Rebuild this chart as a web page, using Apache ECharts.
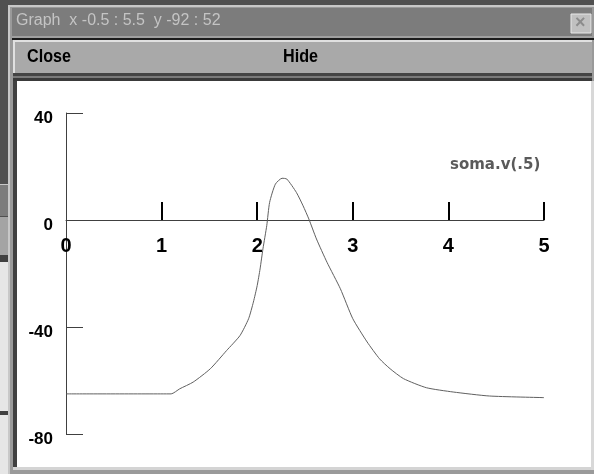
<!DOCTYPE html>
<html lang="en">
<head>
  <meta charset="UTF-8">
  <title>Graph</title>
  <script src="https://cdn.jsdelivr.net/npm/echarts@6/dist/echarts.min.js"></script>
</head>
<body style="margin:0;">
<div id="main" style="width: 594px;height:474px;"></div>
<script type="text/javascript">

// soma.v(.5) trace (t, mV)
const timeValues = [0, 1.1, 1.19, 1.33, 1.51, 1.68, 1.82, 1.91, 1.96, 2.0, 2.03, 2.06, 2.1, 2.13,
  2.19, 2.26, 2.31, 2.41, 2.48, 2.54, 2.62, 2.73, 2.87, 3.0, 3.15, 3.28, 3.39, 3.53, 3.77, 4.05, 4.43, 5.0];
const voltValues = [-65, -65, -63.1, -60.6, -55.6, -48.8, -43.2, -36.9, -30.7, -24.5, -18.3, -10.8, -2.1, 6.6,
  13.4, 15.6, 15.3, 10.3, 5.3, 0.4, -7.1, -15.8, -25.7, -36.9, -45.6, -51.9, -55.6, -59.3, -62.7, -64.3, -65.8, -66.4];
const xTicks = [0, 1, 2, 3, 4, 5];
const yTicks = [-80, -40, 0, 40];
const seriesName = 'soma.v(.5)';
const windowTitle = 'Graph  x -0.5 : 5.5  y -92 : 52';

const myChart = echarts.init(document.getElementById('main'));

const trace = timeValues.map((t, i) => [t, voltValues[i]]);

// plot box in pixels; x axis sits on v = 0
const gridTop = 113, gridBottom = 40;
const gridHeight = 474 - gridTop - gridBottom;
const yMin = yTicks[0], yMax = yTicks[yTicks.length - 1];
const xAxisOffset = -((0 - yMin) / (yMax - yMin)) * gridHeight;

// window chrome behind the plot
const chrome = [
  {type: 'rect', shape: {x: 0, y: 0, width: 594, height: 474}, style: {fill: '#505050'}},
  // other windows peeking at the left edge
  {type: 'rect', shape: {x: 0, y: 184, width: 8, height: 32}, style: {fill: '#7c7c7c'}},
  {type: 'rect', shape: {x: 0, y: 184, width: 8, height: 1}, style: {fill: '#c8c8c8'}},
  {type: 'rect', shape: {x: 0, y: 217, width: 8, height: 38}, style: {fill: '#a4a4a4'}},
  {type: 'rect', shape: {x: 0, y: 255, width: 8, height: 7}, style: {fill: '#404040'}},
  {type: 'rect', shape: {x: 0, y: 262, width: 8, height: 212}, style: {fill: '#e6e6e6'}},
  {type: 'rect', shape: {x: 0, y: 411, width: 8, height: 4}, style: {fill: '#404040'}},
  // window frame
  {type: 'rect', shape: {x: 8, y: 5, width: 586, height: 469}, style: {fill: '#c8c8c8'}},
  {type: 'rect', shape: {x: 10, y: 7, width: 584, height: 467}, style: {fill: '#9a9a9a'}},
  // title bar
  {type: 'rect', shape: {x: 12, y: 8, width: 580, height: 28}, style: {fill: '#7c7c7c'}},
  {type: 'rect', shape: {x: 12, y: 36, width: 580, height: 2}, style: {fill: '#a0a0a0'}},
  {type: 'rect', shape: {x: 12, y: 38, width: 582, height: 2}, style: {fill: '#1c1c1c'}},
  {type: 'text', left: 16, top: 13, style: {text: windowTitle, fill: '#c4c4c4', font: '16px "Liberation Sans"'}},
  // close box
  {type: 'rect', shape: {x: 571, y: 14, width: 20, height: 19}, style: {fill: '#c0c0c0', stroke: '#e8e8e8', lineWidth: 1}},
  {type: 'text', left: 575, top: 14, style: {text: '×', fill: '#8c8c8c', font: 'bold 18px "Liberation Sans"'}},
  // menu bar
  {type: 'rect', shape: {x: 13, y: 40, width: 579, height: 33}, style: {fill: '#e0e0e0'}},
  {type: 'rect', shape: {x: 15, y: 42, width: 577, height: 31}, style: {fill: '#a9a9a9'}},
  {type: 'text', x: 27, y: 47, scaleX: 0.85, style: {text: 'Close', fill: '#000', font: 'bold 19px "Liberation Sans"'}},
  {type: 'text', x: 283, y: 47, scaleX: 0.85, style: {text: 'Hide', fill: '#000', font: 'bold 19px "Liberation Sans"'}},
  {type: 'rect', shape: {x: 13, y: 73, width: 579, height: 3}, style: {fill: '#444444'}},
  {type: 'rect', shape: {x: 13, y: 76, width: 579, height: 2}, style: {fill: '#7a7a7a'}},
  {type: 'rect', shape: {x: 13, y: 78, width: 579, height: 3}, style: {fill: '#3a3a3a'}},
  // plot canvas
  {type: 'rect', shape: {x: 13, y: 81, width: 4, height: 386}, style: {fill: '#404040'}},
  {type: 'rect', shape: {x: 17, y: 81, width: 574, height: 386}, style: {fill: '#ffffff'}},
  {type: 'rect', shape: {x: 13, y: 467, width: 581, height: 3}, style: {fill: '#d4d4d4'}},
  {type: 'rect', shape: {x: 591, y: 81, width: 3, height: 389}, style: {fill: '#d8d8d8'}}
].map(g => Object.assign(g, {z: -10, silent: true}));

const option = {
  animation: false,
  backgroundColor: '#ffffff',
  graphic: chrome,
  grid: {left: 66, right: 50, top: gridTop, bottom: gridBottom, containLabel: false},
  legend: {
    data: [seriesName],
    icon: 'none',
    itemWidth: 0,
    left: 440,
    top: 153,
    textStyle: {color: '#5a5a5a', fontWeight: 'bold', fontSize: 15, fontFamily: 'DejaVu Sans'}
  },
  xAxis: {
    type: 'value',
    min: 0,
    max: 5,
    interval: 1,
    offset: xAxisOffset,
    splitLine: {show: false},
    axisLine: {onZero: false, lineStyle: {color: '#404040', width: 1}},
    axisTick: {inside: true, length: 18, lineStyle: {color: '#000', width: 2}, customValues: xTicks.slice(1)},
    axisLabel: {
      margin: 16, color: '#000', fontWeight: 'bold', fontSize: 20, fontFamily: 'Liberation Sans',
      customValues: xTicks
    }
  },
  yAxis: {
    type: 'value',
    min: yMin,
    max: yMax,
    interval: 40,
    splitLine: {show: false},
    axisLine: {show: true, onZero: false, lineStyle: {color: '#404040', width: 1}},
    axisTick: {inside: true, length: 17, lineStyle: {color: '#404040', width: 1}},
    axisLabel: {
      margin: 13, color: '#000', fontWeight: 'bold', fontSize: 17, fontFamily: 'Liberation Sans',
      verticalAlign: 'top', lineHeight: 10, customValues: yTicks
    }
  },
  series: [
    {
      name: seriesName,
      type: 'line',
      data: trace,
      showSymbol: false,
      smooth: 0.2,
      lineStyle: {color: '#606060', width: 1},
      itemStyle: {color: '#606060'}
    }
  ]
};
myChart.setOption(option);
</script>
</body>
</html>
